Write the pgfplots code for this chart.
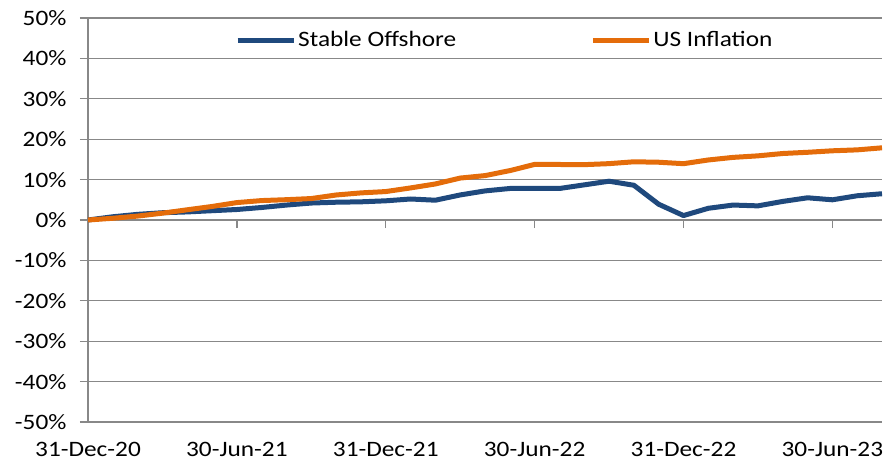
\documentclass[border=0pt]{standalone}
\usepackage{pgfplots}
\pgfplotsset{compat=1.18}
\usepackage{fontspec}
\setmainfont{Carlito}[FakeStretch=1.15]
\definecolor{sblue}{HTML}{1F497D}
\definecolor{sorange}{HTML}{E46C0A}
\definecolor{gridgray}{HTML}{888888}
\begin{document}
\begin{tikzpicture}[font=\fontsize{22}{26}\selectfont]
\begin{axis}[
  scale only axis, width=794pt, height=404pt,
  xmin=0, xmax=32, ymin=-50, ymax=50,
  axis x line=middle, axis y line=left,
  hide obscured x ticks=false,
  axis line style={gridgray, line width=1.3pt, -},
  xtick={0,6,12,18,24,30},
  xticklabels={31-Dec-20,30-Jun-21,31-Dec-21,30-Jun-22,31-Dec-22,30-Jun-23},
  ytick={-50,-40,...,50},
  yticklabels={-50\%,-40\%,-30\%,-20\%,-10\%,0\%,10\%,20\%,30\%,40\%,50\%},
  ymajorgrids, grid style={gridgray, line width=1.3pt},
  tick align=outside, major tick length=8pt,
  tick style={gridgray, line width=1.3pt},
  xticklabel style={yshift=-211pt},
  yticklabel style={xshift=-10pt},
  legend columns=2,
  legend style={at={(0.525,0.9455)}, anchor=center, draw=none, fill=none,
    /tikz/every even column/.append style={column sep=132pt},
    nodes={inner xsep=2pt}},
  legend image code/.code={\draw[#1] (0pt,0pt) -- (56pt,0pt);},
]
\addplot[sblue, line width=5pt, line join=round] table {
x y
0 0
1 0.8
2 1.4
3 1.8
4 2.0
5 2.3
6 2.6
7 3.1
8 3.7
9 4.2
10 4.4
11 4.5
12 4.75
13 5.2
14 4.9
15 6.2
16 7.2
17 7.8
18 7.8
19 7.8
20 8.7
21 9.6
22 8.6
23 3.9
24 1.1
25 2.9
26 3.7
27 3.5
28 4.6
29 5.5
30 5.0
31 6.0
32 6.5
};
\addlegendentry{Stable Offshore}
\addplot[sorange, line width=5pt, line join=round] table {
x y
0 0
1 0.43
2 0.97
3 1.69
4 2.53
5 3.35
6 4.31
7 4.81
8 5.03
9 5.31
10 6.19
11 6.71
12 7.04
13 7.94
14 8.92
15 10.38
16 10.99
17 12.22
18 13.76
19 13.74
20 13.70
21 13.95
22 14.41
23 14.30
24 13.94
25 14.86
26 15.50
27 15.88
28 16.46
29 16.76
30 17.13
31 17.36
32 17.87
};
\addlegendentry{US Inflation}
\end{axis}
\pgfresetboundingbox
\path[use as bounding box] ([shift={(-88pt,-41pt)}]current axis.south west) rectangle ([shift={(2pt,18pt)}]current axis.north east);
\end{tikzpicture}
\end{document}
